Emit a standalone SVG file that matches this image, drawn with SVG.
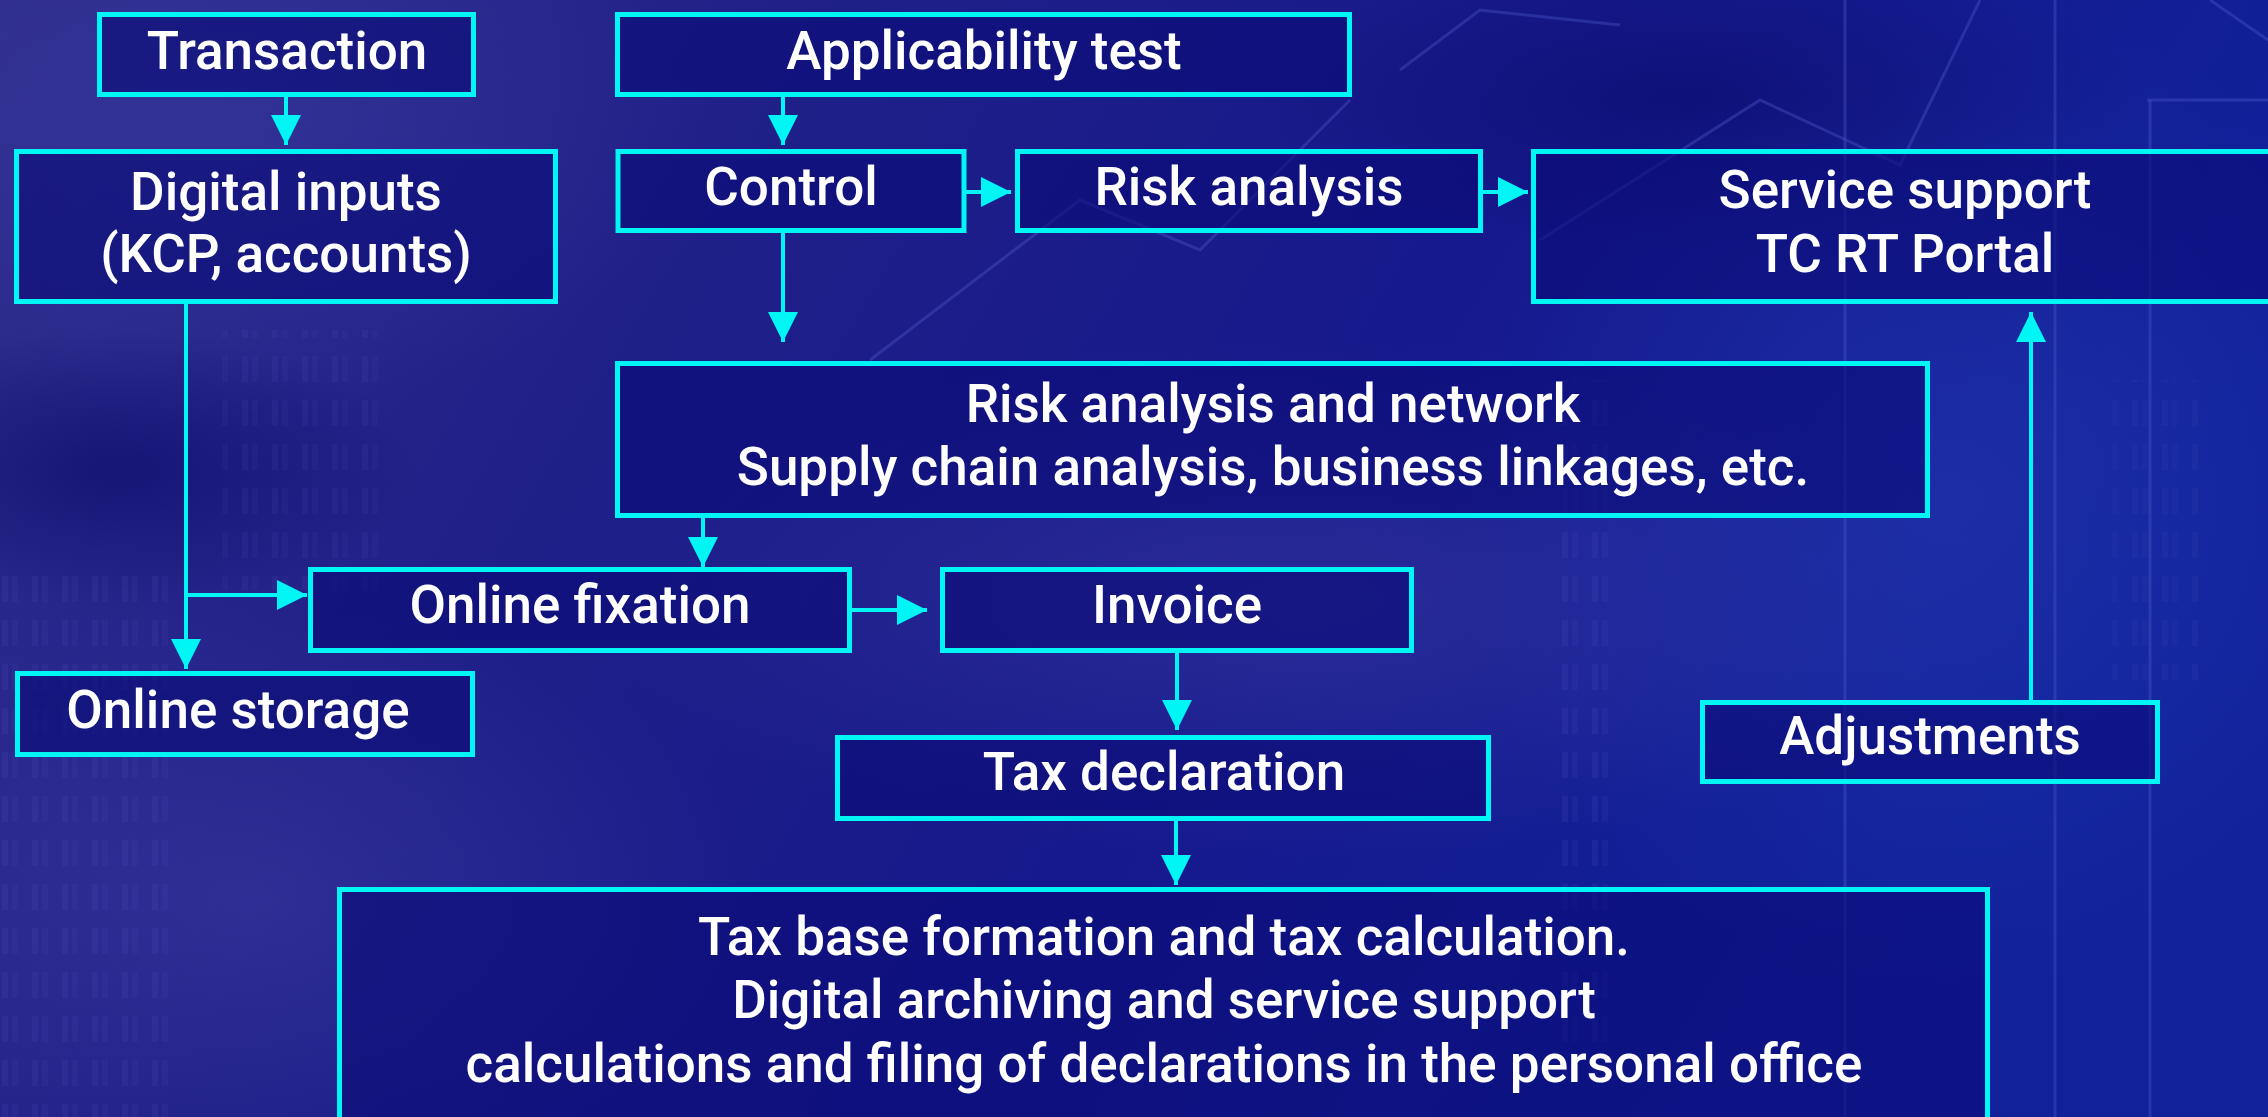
<svg xmlns="http://www.w3.org/2000/svg" width="2268" height="1117" viewBox="0 0 2268 1117">
  <defs>
    <linearGradient id="bg" x1="0" y1="0" x2="1" y2="0.3">
      <stop offset="0" stop-color="#2e2d8c"/>
      <stop offset="0.35" stop-color="#1f1f88"/>
      <stop offset="0.65" stop-color="#16198c"/>
      <stop offset="1" stop-color="#10219a"/>
    </linearGradient>
    <radialGradient id="glowL" cx="0.5" cy="0.5" r="0.5">
      <stop offset="0" stop-color="#3a3aa0" stop-opacity="0.55"/>
      <stop offset="1" stop-color="#3a3aa0" stop-opacity="0"/>
    </radialGradient>
    <radialGradient id="glowR" cx="0.5" cy="0.5" r="0.5">
      <stop offset="0" stop-color="#2a3fb8" stop-opacity="0.45"/>
      <stop offset="1" stop-color="#2a3fb8" stop-opacity="0"/>
    </radialGradient>
    <radialGradient id="dark" cx="0.5" cy="0.5" r="0.5">
      <stop offset="0" stop-color="#0a0a6a" stop-opacity="0.6"/>
      <stop offset="1" stop-color="#0a0a6a" stop-opacity="0"/>
    </radialGradient>
    <pattern id="dots" x="0" y="0" width="30" height="44" patternUnits="userSpaceOnUse">
      <rect x="2" y="4" width="6" height="26" fill="#5a5ac8" opacity="0.35"/>
      <rect x="12" y="4" width="6" height="26" fill="#5a5ac8" opacity="0.25"/>
    </pattern>
    <marker id="head" viewBox="0 0 30 30" refX="30" refY="15" markerWidth="30" markerHeight="30" markerUnits="userSpaceOnUse" orient="auto">
      <path d="M0,0 L30,15 L0,30 Z" fill="#00f5f5"/>
    </marker>
    <style>
      .box { fill: #0c0c78; fill-opacity: 0.62; stroke: #00f5f5; stroke-width: 5; }
      .lbl { font-family: Roboto, "Liberation Sans", sans-serif; font-size: 53px; font-weight: 500; fill: #ffffff; text-anchor: middle; }
      .link { fill: none; stroke: #00f5f5; stroke-width: 4; marker-end: url(#head); }
      .deco { fill: none; stroke: #4a55c8; stroke-width: 3; opacity: 0.4; }
    </style>
  </defs>

  <!-- backdrop -->
  <rect x="0" y="0" width="2268" height="1117" fill="url(#bg)"/>
  <ellipse cx="200" cy="120" rx="500" ry="300" fill="url(#glowL)"/>
  <ellipse cx="250" cy="900" rx="500" ry="300" fill="url(#glowL)"/>
  <ellipse cx="1300" cy="600" rx="700" ry="260" fill="url(#glowL)"/>
  <ellipse cx="1950" cy="500" rx="500" ry="500" fill="url(#glowR)"/>
  <ellipse cx="120" cy="470" rx="300" ry="140" fill="url(#dark)"/>
  <ellipse cx="1700" cy="100" rx="450" ry="150" fill="url(#dark)"/>
  <rect x="0" y="560" width="170" height="560" fill="url(#dots)" opacity="0.35"/>
  <rect x="220" y="330" width="160" height="260" fill="url(#dots)" opacity="0.3"/>
  <rect x="1560" y="380" width="60" height="700" fill="url(#dots)" opacity="0.4"/>
  <rect x="2110" y="380" width="90" height="300" fill="url(#dots)" opacity="0.25"/>
  <line class="deco" x1="1845" y1="0" x2="1845" y2="1117"/>
  <line class="deco" x1="2055" y1="0" x2="2055" y2="1117"/>
  <line class="deco" x1="2150" y1="100" x2="2150" y2="1117"/>
  <line class="deco" x1="2147" y1="100" x2="2268" y2="100"/>
  <polyline class="deco" points="1540,240 1760,100 1900,165 1980,0"/>
  <polyline class="deco" points="1400,70 1480,10 1620,25"/>
  <polyline class="deco" points="2210,0 2268,40"/>
  <polyline class="deco" points="870,360 1080,200 1200,250 1350,100"/>

  <!-- nodes -->
  <g id="transaction">
    <rect class="box" x="99.5" y="14.5" width="374" height="80"/>
    <text class="lbl" x="287" y="69">Transaction</text>
  </g>
  <g id="applicability-test">
    <rect class="box" x="617.5" y="14.5" width="732" height="80"/>
    <text class="lbl" x="984" y="69">Applicability test</text>
  </g>
  <g id="digital-inputs">
    <rect class="box" x="16.5" y="151.5" width="539" height="150"/>
    <text class="lbl" x="286" y="210">Digital inputs</text>
    <text class="lbl" x="286" y="272">(KCP, accounts)</text>
  </g>
  <g id="control">
    <rect class="box" x="618" y="151.5" width="346" height="79"/>
    <text class="lbl" x="791" y="205">Control</text>
  </g>
  <g id="risk-analysis">
    <rect class="box" x="1017.5" y="151.5" width="463" height="79"/>
    <text class="lbl" x="1249" y="205">Risk analysis</text>
  </g>
  <g id="service-support">
    <rect class="box" x="1533.5" y="151.5" width="760" height="150"/>
    <text class="lbl" x="1905" y="208">Service support</text>
    <text class="lbl" x="1905" y="272">TC RT Portal</text>
  </g>
  <g id="risk-network">
    <rect class="box" x="617.5" y="363.5" width="1310" height="152"/>
    <text class="lbl" x="1273" y="422">Risk analysis and network</text>
    <text class="lbl" x="1273" y="485">Supply chain analysis, business linkages, etc.</text>
  </g>
  <g id="online-fixation">
    <rect class="box" x="310.5" y="569.5" width="539" height="81"/>
    <text class="lbl" x="580" y="623">Online fixation</text>
  </g>
  <g id="invoice">
    <rect class="box" x="942.5" y="569.5" width="469" height="81"/>
    <text class="lbl" x="1177" y="623">Invoice</text>
  </g>
  <g id="online-storage">
    <rect class="box" x="17.5" y="673.5" width="455" height="81"/>
    <text class="lbl" x="238" y="728">Online storage</text>
  </g>
  <g id="tax-declaration">
    <rect class="box" x="837.5" y="737.5" width="651" height="81"/>
    <text class="lbl" x="1164" y="790">Tax declaration</text>
  </g>
  <g id="adjustments">
    <rect class="box" x="1702.5" y="702.5" width="455" height="79"/>
    <text class="lbl" x="1930" y="754">Adjustments</text>
  </g>
  <g id="tax-base">
    <rect class="box" x="339.5" y="889.5" width="1648" height="260"/>
    <text class="lbl" x="1164" y="955">Tax base formation and tax calculation.</text>
    <text class="lbl" x="1164" y="1018">Digital archiving and service support</text>
    <text class="lbl" x="1164" y="1082">calculations and filing of declarations in the personal office</text>
  </g>

  <!-- connectors -->
  <g id="connectors">
    <path class="link" d="M286,97 V145"/>
    <path class="link" d="M783,97 V145"/>
    <path class="link" d="M966,192 H1011"/>
    <path class="link" d="M1483,192 H1528"/>
    <path class="link" d="M783,233 V342"/>
    <path class="link" d="M186,304 V669"/>
    <path class="link" d="M186,595 H307"/>
    <path class="link" d="M703,518 V567"/>
    <path class="link" d="M852,610 H927"/>
    <path class="link" d="M1177,653 V730"/>
    <path class="link" d="M1176,821 V885"/>
    <path class="link" d="M2031,700 V312"/>
  </g>
</svg>
